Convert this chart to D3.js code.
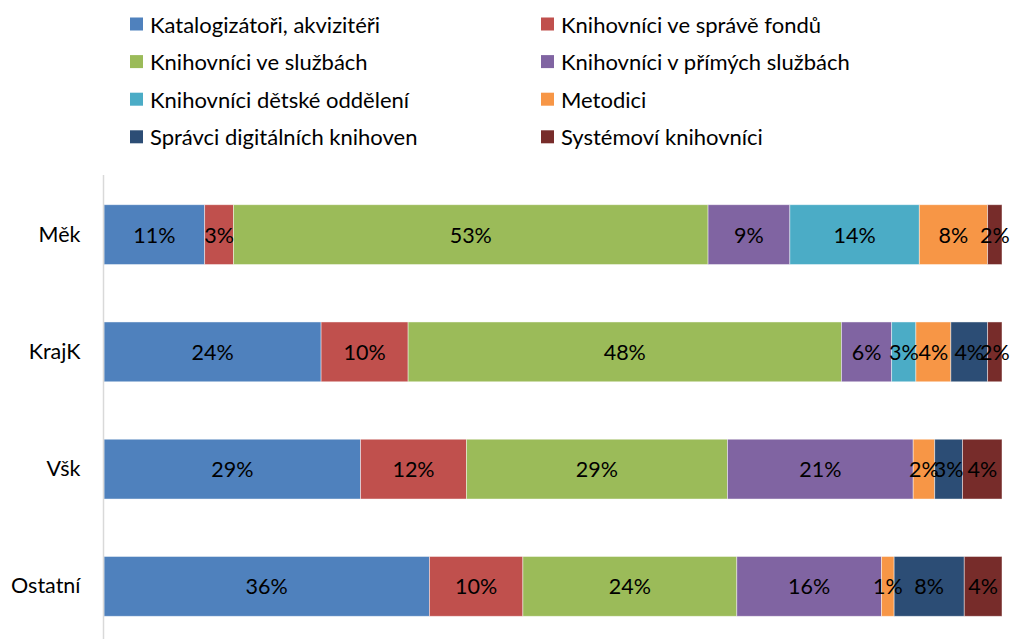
<!DOCTYPE html>
<html>
<head>
<meta charset="utf-8">
<script src="https://cdn.jsdelivr.net/npm/d3@7"></script>
<style>
  html, body { margin: 0; padding: 0; background: #fff; }
  svg { display: block; font-family: Lato, "Open Sans", sans-serif; }
</style>
</head>
<body>
<svg id="chart" width="1023" height="639"></svg>
<script>
const categories = ["Měk", "KrajK", "Všk", "Ostatní"];
const seriesNames = [
  "Katalogizátoři, akvizitéři",
  "Knihovníci ve správě fondů",
  "Knihovníci ve službách",
  "Knihovníci v přímých službách",
  "Knihovníci dětské oddělení",
  "Metodici",
  "Správci digitálních knihoven",
  "Systémoví knihovníci"
];
const colors = ["#4F81BD", "#C0504D", "#9BBB59", "#8064A2", "#4BACC6", "#F79646", "#2C4D75", "#772C2A"];
// values per series, in order of categories (percent)
const katalogizatori = [11.2, 24.2, 28.6, 36.2];
const spravaFondu    = [3.2, 9.7, 11.8, 10.4];
const sluzby         = [52.8, 48.3, 29.1, 23.8];
const primeSluzby    = [9.1, 5.6, 20.7, 16.1];
const detske         = [14.4, 2.7, 0, 0];
const metodici       = [7.6, 3.9, 2.4, 1.4];
const digitalni      = [0, 4.1, 3.1, 7.8];
const systemovi      = [1.6, 1.6, 4.4, 4.2];
const seriesValues = [katalogizatori, spravaFondu, sluzby, primeSluzby, detske, metodici, digitalni, systemovi];

const rows = categories.map((c, i) => {
  const o = { cat: c };
  seriesNames.forEach((s, j) => o[s] = seriesValues[j][i]);
  return o;
});

const svg = d3.select("#chart");
const plotLeft = 104, plotRight = 1002, plotTop = 176, plotBottom = 645;

const stack = d3.stack().keys(seriesNames).offset(d3.stackOffsetExpand);
const stacked = stack(rows);

const x = d3.scaleLinear().domain([0, 1]).range([plotLeft, plotRight]);
const y = d3.scaleBand().domain(categories).range([plotTop, plotBottom]).paddingInner(0.49).paddingOuter(0.245);

const fmt = d3.format(".0%");

const g = svg.append("g");
stacked.forEach((layer, j) => {
  const lg = g.append("g").attr("fill", colors[j]);
  lg.selectAll("rect").data(layer).join("rect")
    .attr("x", d => x(d[0]))
    .attr("width", d => x(d[1]) - x(d[0]))
    .attr("y", d => y(d.data.cat))
    .attr("height", y.bandwidth())
    .attr("stroke", "#fff").attr("stroke-opacity", 0.55).attr("stroke-width", 0.8);
});
stacked.forEach((layer, j) => {
  g.append("g").selectAll("text").data(layer.filter(d => d[1] - d[0] > 0)).join("text")
    .attr("x", d => (x(d[0]) + x(d[1])) / 2)
    .attr("y", d => y(d.data.cat) + y.bandwidth() / 2)
    .attr("text-anchor", "middle")
    .attr("dominant-baseline", "central")
    .attr("font-size", 21.5)
    .attr("fill", "#000")
    .text(d => fmt(d[1] - d[0]));
});

// vertical axis
const yAxis = d3.axisLeft(y).tickSize(0).tickPadding(23);
const ax = svg.append("g").attr("transform", `translate(${plotLeft - 0.5},0)`).call(yAxis);
ax.select(".domain").attr("stroke", "#d9d9d9").attr("stroke-width", 1.5).attr("d", `M0,${plotTop - 1}V639`);
ax.selectAll("text").attr("font-size", 21.5).attr("fill", "#000").attr("font-family", "Lato, sans-serif");

// legend
const legendX = [130, 541];
const legendY0 = 24, legendStep = 37.6;
const leg = svg.append("g");
seriesNames.forEach((s, j) => {
  const col = j % 2, row = Math.floor(j / 2);
  const gx = legendX[col], gy = legendY0 + row * legendStep;
  leg.append("rect").attr("x", gx).attr("y", gy - 6.5).attr("width", 13).attr("height", 13).attr("fill", colors[j]);
  leg.append("text").attr("x", gx + 20).attr("y", gy).attr("dominant-baseline", "central")
    .attr("font-size", 22).attr("fill", "#000").text(s);
});
</script>
</body>
</html>
